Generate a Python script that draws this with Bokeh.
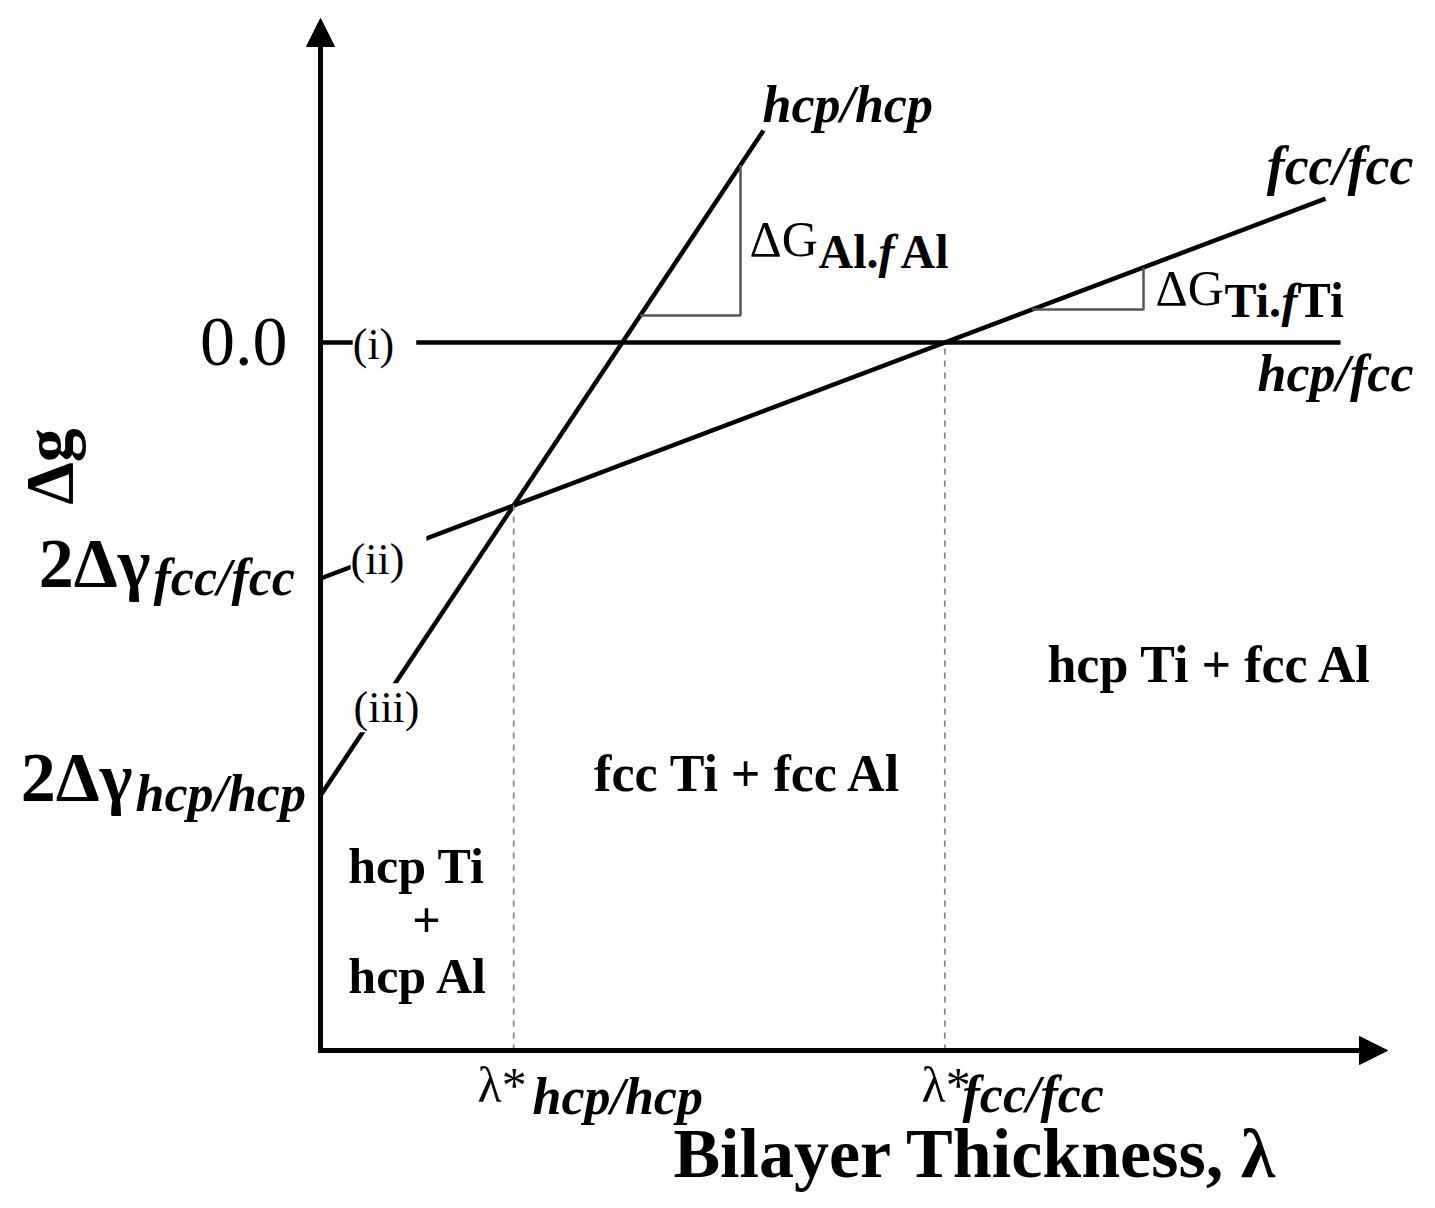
import math
from bokeh.plotting import figure
from bokeh.models import Range1d, Arrow, NormalHead, Label
from bokeh.embed import file_html
from bokeh.resources import INLINE

# ---- schematic data (Δg versus bilayer thickness λ) ----
curve_names = ["hcp/fcc", "fcc/fcc", "hcp/hcp"]
intercepts = [0.0, -2.36, -4.53]     # 0.0, 2Δγ fcc/fcc, 2Δγ hcp/hcp
slopes = [0.0, 0.378, 1.501]         # 0, ΔG_Ti·f_Ti, ΔG_Al·f_Al
x_ends = [10.20, 10.05, 4.43]
tri_curve = [2, 1]                    # slope triangles on hcp/hcp and fcc/fcc
tri_level = [0.27, 0.33]
tri_right = [4.20, 8.23]
axis_x_max = 10.67
axis_y_max = 3.24
axis_y_min = -7.08

# critical thicknesses from intersections
lam_hcp = (intercepts[1] - intercepts[2]) / (slopes[2] - slopes[1])
lam_fcc = -intercepts[1] / slopes[1]

FONT = "Liberation Serif"

p = figure(width=1427, height=1200, x_range=Range1d(-3.20, 11.07),
           y_range=Range1d(-8.58, 3.42), output_backend="svg",
           toolbar_location=None, min_border=0)
p.min_border_left = p.min_border_right = p.min_border_top = p.min_border_bottom = 0
p.axis.visible = False
p.grid.visible = False
p.outline_line_color = None
p.background_fill_color = "white"
p.border_fill_color = "white"

# axes
p.line([axis_x_max - 0.2, 0, 0], [axis_y_min, axis_y_min, axis_y_max - 0.2],
       line_width=5, color="black", line_join="miter")
for xs, ys, xe, ye in [(0, axis_y_min, 0, axis_y_max), (0, axis_y_min, axis_x_max, axis_y_min)]:
    p.add_layout(Arrow(end=NormalHead(size=28, fill_color="black", line_color="black", line_width=1),
                       x_start=xs, y_start=ys, x_end=xe, y_end=ye, line_width=5, line_color="black"))

# curves
cx, cy = [], []
for b, m, xe in zip(intercepts, slopes, x_ends):
    cx.append([0.0, xe])
    cy.append([b, b + m * xe])
p.multi_line(cx, cy, line_width=4.5, line_color="black")

# slope triangles
tx, ty = [], []
for ci, lvl, xr in zip(tri_curve, tri_level, tri_right):
    b, m = intercepts[ci], slopes[ci]
    xl = (lvl - b) / m
    tx.append([xl, xr, xr])
    ty.append([lvl, lvl, b + m * xr])
p.multi_line(tx, ty, line_width=2.5, line_color="#555555")

# dashed critical thickness lines
lams = [lam_hcp, lam_fcc]
p.segment(x0=lams, y0=[axis_y_min] * 2, x1=lams,
          y1=[intercepts[1] + slopes[1] * l for l in lams],
          line_width=1.8, line_color="#888888", line_dash="6 6")


def X(px):
    return (px - 320) / 100.0


def Y(py):
    return (342 - py) / 100.0


def lab(text, px, py, size, style="normal", align="left", baseline="alphabetic",
        bg=None, angle=0.0):
    if baseline == "alphabetic":
        py = py - 0.36 * size
    p.add_layout(Label(x=X(px), y=Y(py), text=text, text_font=FONT,
                       text_font_size=f"{size}px", text_font_style=style,
                       text_align=align, text_baseline=baseline, text_color="black",
                       background_fill_color=bg, angle=angle))


lab("0.0", 287, 367, 70, align="right")
lab(" (i) ", 384, 360, 44, align="center", bg="white")
lab(" (ii) ", 388, 575, 44, align="center", bg="white")
lab(" (iii) ", 397, 723, 44, align="center", bg="white")
lab("Δg", 48, 466, 68, style="bold", align="center", baseline="middle", angle=math.pi / 2)

lab("2Δγ", 150, 588, 70, style="bold", align="right")
lab("fcc/fcc", 153, 596, 52, style="bold italic")
lab("2Δγ", 132, 802, 70, style="bold", align="right")
lab("hcp/hcp", 135, 812, 52, style="bold italic")

lab(curve_names[2], 762, 123, 52, style="bold italic")
lab(curve_names[1], 1413, 185, 54, style="bold italic", align="right")
lab(curve_names[0], 1413, 392, 52, style="bold italic", align="right")

lab("ΔG", 749, 256, 50)
lab("Al.", 818, 268, 48, style="bold")
lab("f", 878, 268, 48, style="bold italic")
lab("Al", 900, 268, 48, style="bold")

lab("ΔG", 1155, 305, 50)
lab("Ti.", 1224, 317, 48, style="bold")
lab("f", 1281, 317, 48, style="bold italic")
lab("Ti", 1297, 317, 50, style="bold")

lab("hcp Ti + fcc Al", 1210, 683, 52, style="bold", align="center")
lab("fcc Ti + fcc Al", 748, 792, 52, style="bold", align="center")
lab("hcp Ti", 416, 883, 50, style="bold", align="center")
lab("+", 426, 938, 50, style="bold", align="center")
lab("hcp Al", 418, 993, 50, style="bold", align="center")

lab("λ*", 477, 1102, 50)
lab("hcp/hcp", 532, 1115, 52, style="bold italic")
lab("λ*", 921, 1102, 50)
lab("fcc/fcc", 962, 1113, 52, style="bold italic")

lab("Bilayer Thickness, λ", 975, 1178, 70, style="bold", align="center")

open("out.html", "w").write(file_html(p, INLINE))
